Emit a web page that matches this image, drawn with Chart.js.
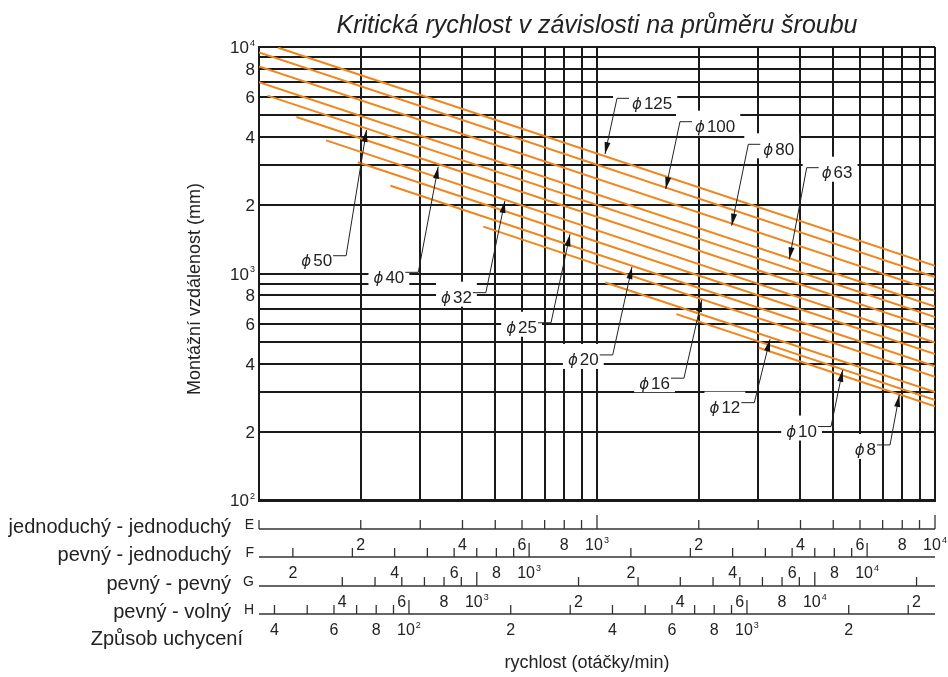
<!DOCTYPE html>
<html>
<head>
<meta charset="utf-8">
<script src="https://cdn.jsdelivr.net/npm/chart.js@4.4.0/dist/chart.umd.min.js"></script>
<style>
  body { margin: 0; background: #fff; }
  #wrap { width: 948px; height: 677px; }
</style>
</head>
<body>
<div id="wrap"><canvas id="chart" width="948" height="677"></canvas></div>
<script>
// screw diameters, top line to bottom line
const diameters = [125, 100, 80, 63, 50, 40, 32, 25, 20, 16, 12, 10, 8];
// each line: start and end, rpm (scale E) / mounting distance mm
const startRpm = [114, 100, 100, 100, 106, 129, 158, 196, 245, 461, 1058, 1717, 3010];
const startMm = [9930, 9450, 8200, 7000, 6100, 4910, 3870, 3100, 2440, 1610, 913, 662, 470];
const endRpm = [10000, 10000, 10000, 10000, 10000, 10000, 10000, 10000, 10000, 10000, 10000, 10000, 10000];
const endMm = [1082, 965, 837, 714, 643, 569, 496, 441, 389, 350, 300, 276, 259];

// label arrows: tip on the line, bend of the leader
const tipRpm = [1056, 1597, 2503, 3707, 208, 339, 534, 832, 1269, 2041, 3250, 5333, 7841];
const tipMm = [3370, 2361, 1626, 1155, 4301, 2961, 2090, 1490, 1068, 764, 512, 375, 291];
const bendRpm = [1146, 1760, 2803, 4173, 181, 296, 469, 731, 1113, 1808, 2920, 4924, 7361];
const bendMm = [5935, 4680, 3719, 2932, 1198, 1012, 823, 606, 437, 345, 269, 211, 175];

const gridMm = [100, 200, 300, 400, 500, 600, 700, 800, 900, 1000, 2000, 3000, 4000, 5000, 6000, 7000, 8000, 9000, 10000];
const gridRpm = [100, 200, 300, 400, 500, 600, 700, 800, 900, 1000, 2000, 3000, 4000, 5000, 6000, 7000, 8000, 9000, 10000];
const labelledMm = [100, 200, 400, 600, 800, 1000, 2000, 4000, 6000, 8000, 10000];

// mounting scales under the chart
const mountNames = ["jednoduchý - jednoduchý", "pevný - jednoduchý", "pevný - pevný", "pevný - volný"];
const mountCodes = ["E", "F", "G", "H"];
const mountFactor = [1, 1.588, 2.268, 0.36];
const mountFirstTick = [100, 200, 400, 40];
const mountLastTick = [10000, 10000, 20000, 3000];
const mountLabelFrom = [200, 200, 400, 40];
const mountLabelTo = [10000, 10000, 20000, 2000];

const FONT = '"Liberation Sans", Arial, sans-serif';
const ORANGE = "#f0861c";
const INK = "#1a1a1a";
const rowY = [529, 557, 586, 614];

const drawNum = (ctx, v, x, y, size, align) => {
  const p = Math.floor(Math.log10(v) + 1e-9);
  const m = Math.round(v / Math.pow(10, p));
  ctx.textBaseline = "alphabetic";
  if (m !== 1) {
    ctx.font = `${size}px ${FONT}`;
    ctx.textAlign = align;
    ctx.fillText(String(m), x, y);
    return;
  }
  ctx.font = `${size}px ${FONT}`;
  const w1 = ctx.measureText("10").width;
  ctx.font = `${Math.round(size * 0.55)}px ${FONT}`;
  const w2 = ctx.measureText(String(p)).width;
  const total = w1 + w2 + 1;
  let left = x;
  if (align === "center") left = x - total / 2;
  if (align === "right") left = x - total;
  ctx.textAlign = "left";
  ctx.font = `${size}px ${FONT}`;
  ctx.fillText("10", left, y);
  ctx.font = `${Math.round(size * 0.55)}px ${FONT}`;
  ctx.fillText(String(p), left + w1 + 1, y - size * 0.42);
};

const labelGeom = (chart, i) => {
  const { ctx } = chart;
  const { x, y } = chart.scales;
  const tx = x.getPixelForValue(tipRpm[i]);
  const ty = y.getPixelForValue(tipMm[i]);
  const bx = x.getPixelForValue(bendRpm[i]);
  const by = y.getPixelForValue(bendMm[i]);
  const right = bx > tx;
  ctx.font = `italic 15px "DejaVu Sans", sans-serif`;
  const phiW = ctx.measureText("ϕ").width;
  ctx.font = `17px ${FONT}`;
  const numW = ctx.measureText(String(diameters[i])).width;
  const w = phiW + 2 + numW;
  const stubEnd = right ? bx + 12 : bx - 13;
  const textLeft = right ? stubEnd + 3 : stubEnd - 1 - w;
  return { tx, ty, bx, by, right, stubEnd, textLeft, w, phiW };
};

const overlay = {
  id: "overlay",
  beforeDatasetsDraw(chart) {
    const { ctx } = chart;
    ctx.save();
    ctx.fillStyle = "#fff";
    diameters.forEach((d, i) => {
      const g = labelGeom(chart, i);
      const x0 = g.right ? g.bx - 4 : g.textLeft - 5;
      const x1 = g.textLeft + g.w + 5;
      ctx.fillRect(x0, g.by - 11, x1 - x0, 25);
    });
    ctx.restore();
  },
  afterDatasetsDraw(chart) {
    const { ctx } = chart;
    ctx.save();
    diameters.forEach((d, i) => {
      const g = labelGeom(chart, i);
      ctx.strokeStyle = "#222";
      ctx.lineWidth = 1;
      ctx.beginPath();
      ctx.moveTo(g.stubEnd, g.by);
      ctx.lineTo(g.bx, g.by);
      ctx.lineTo(g.tx, g.ty);
      ctx.stroke();
      // arrow head
      const ang = Math.atan2(g.ty - g.by, g.tx - g.bx);
      ctx.fillStyle = "#111";
      ctx.beginPath();
      ctx.moveTo(g.tx, g.ty);
      ctx.lineTo(g.tx - 12 * Math.cos(ang) + 3 * Math.sin(ang), g.ty - 12 * Math.sin(ang) - 3 * Math.cos(ang));
      ctx.lineTo(g.tx - 12 * Math.cos(ang) - 3 * Math.sin(ang), g.ty - 12 * Math.sin(ang) + 3 * Math.cos(ang));
      ctx.closePath();
      ctx.fill();
      // text
      const base = g.by + 10.5;
      ctx.fillStyle = "#222";
      ctx.textAlign = "left";
      ctx.textBaseline = "alphabetic";
      ctx.font = `italic 15px "DejaVu Sans", sans-serif`;
      ctx.fillText("ϕ", g.textLeft, base);
      ctx.font = `17px ${FONT}`;
      ctx.fillText(String(d), g.textLeft + g.phiW + 2, base);
    });
    ctx.restore();
  },
  afterDraw(chart) {
    const { ctx, chartArea } = chart;
    const { x, y } = chart.scales;
    ctx.save();
    ctx.fillStyle = "#222";

    // title
    ctx.font = `italic 25px ${FONT}`;
    ctx.textAlign = "center";
    ctx.textBaseline = "alphabetic";
    ctx.fillText("Kritická rychlost v závislosti na průměru šroubu", 597, 33);

    // y tick labels
    labelledMm.forEach((v) => {
      drawNum(ctx, v, 255, y.getPixelForValue(v) + 6, 17, "right");
    });

    // y title
    ctx.save();
    ctx.translate(200, 289);
    ctx.rotate(-Math.PI / 2);
    ctx.font = `18px ${FONT}`;
    ctx.textAlign = "center";
    ctx.textBaseline = "alphabetic";
    ctx.fillText("Montážní vzdálenost (mm)", 0, 0);
    ctx.restore();

    // mounting scales
    mountCodes.forEach((code, i) => {
      const ly = rowY[i];
      ctx.strokeStyle = "#333";
      ctx.lineWidth = 1.3;
      ctx.beginPath();
      ctx.moveTo(chartArea.left, ly);
      ctx.lineTo(chartArea.right, ly);
      ctx.stroke();
      ctx.fillStyle = "#222";
      for (let p = 10; p <= 10000; p *= 10) {
        for (let m = 1; m <= 9; m++) {
          const v = m * p;
          if (v < mountFirstTick[i] || v > mountLastTick[i]) continue;
          const px = x.getPixelForValue(v / mountFactor[i]);
          if (px < chartArea.left - 1 || px > chartArea.right + 1) continue;
          const h = m === 1 && px > chartArea.left + 3 ? 14 : 9;
          ctx.beginPath();
          ctx.moveTo(px, ly);
          ctx.lineTo(px, ly - h);
          ctx.stroke();
          if ([1, 2, 4, 6, 8].includes(m) && v >= mountLabelFrom[i] && v <= mountLabelTo[i]) {
            drawNum(ctx, v, px, ly + 20.5, 16, "center");
          }
        }
      }
      ctx.font = `20px ${FONT}`;
      ctx.textAlign = "right";
      ctx.textBaseline = "alphabetic";
      ctx.fillText(mountNames[i], 231, ly + 4);
      ctx.font = `14px ${FONT}`;
      ctx.fillText(code, 254, ly);
    });
    ctx.font = `20px ${FONT}`;
    ctx.textAlign = "right";
    ctx.fillText("Způsob uchycení", 243, 645);

    // x title
    ctx.font = `18px ${FONT}`;
    ctx.textAlign = "center";
    ctx.fillText("rychlost (otáčky/min)", 587, 668);
    ctx.restore();
  },
};

const datasets = diameters.map((d, i) => ({
  label: "ϕ" + d,
  data: [
    { x: startRpm[i], y: startMm[i] },
    { x: endRpm[i], y: endMm[i] },
  ],
  borderColor: ORANGE,
  borderWidth: 2,
  pointRadius: 0,
  fill: false,
}));

new Chart(document.getElementById("chart"), {
  type: "line",
  data: { datasets },
  plugins: [overlay],
  options: {
    responsive: false,
    animation: false,
    devicePixelRatio: 1,
    layout: { padding: { left: 0, right: 13, top: 47, bottom: 177 } },
    plugins: { legend: { display: false }, tooltip: { enabled: false }, title: { display: false } },
    scales: {
      x: {
        type: "logarithmic",
        min: 100,
        max: 10000,
        afterBuildTicks: (scale) => { scale.ticks = gridRpm.map((v) => ({ value: v })); },
        afterFit: (scale) => { scale.height = 0; },
        ticks: { display: false },
        grid: { color: INK, lineWidth: 2, drawTicks: false },
        border: { color: INK, width: 3 },
      },
      y: {
        type: "logarithmic",
        min: 100,
        max: 10000,
        afterBuildTicks: (scale) => { scale.ticks = gridMm.map((v) => ({ value: v })); },
        afterFit: (scale) => { scale.width = 259; },
        ticks: { display: false },
        grid: { color: INK, lineWidth: 2, drawTicks: false },
        border: { color: INK, width: 2 },
      },
    },
  },
});
</script>
</body>
</html>
